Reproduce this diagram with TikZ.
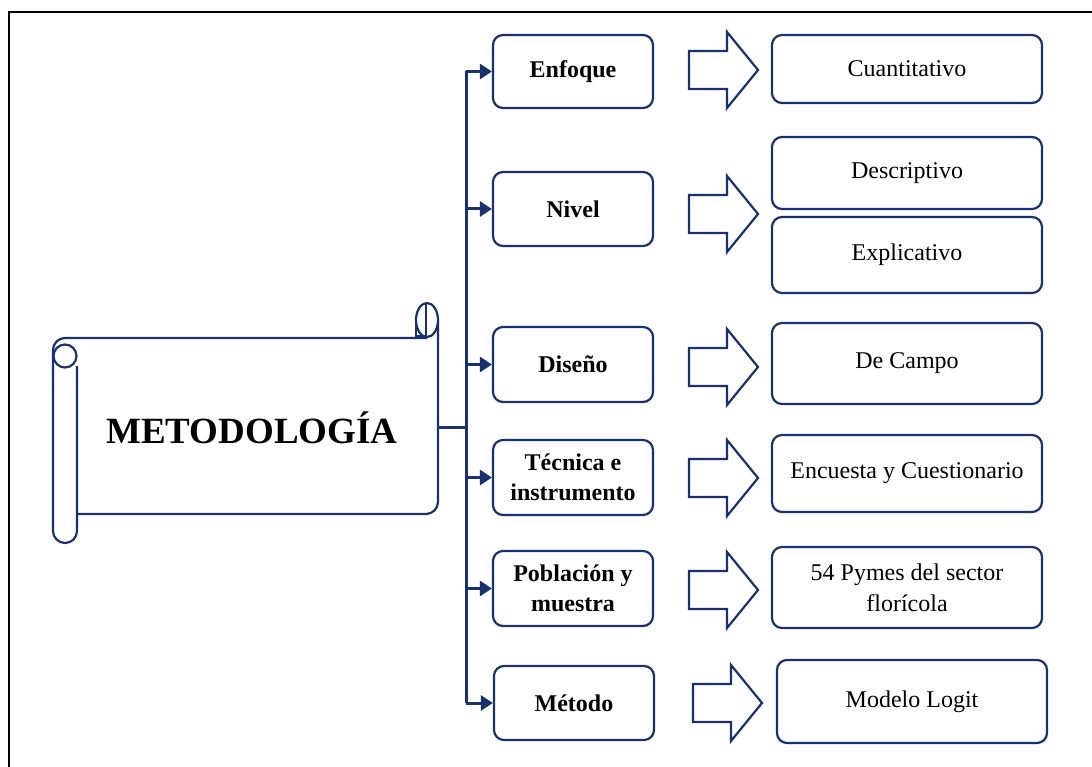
\documentclass[tikz,border=0pt]{standalone}
\usepackage{fontspec}
\setmainfont{Liberation Serif}
\usetikzlibrary{arrows.meta}
\definecolor{navy}{RGB}{25,50,110}

\tikzset{
	catbox/.style={draw=navy, line width=2.2pt, rounded corners=10pt, minimum width=160pt, inner sep=2pt, align=center, font=\fontsize{24}{30}\selectfont\bfseries},
	resbox/.style={draw=navy, line width=2.2pt, rounded corners=10pt, minimum width=270pt, inner sep=2pt, align=center, font=\fontsize{24}{31}\selectfont},
	branch/.style={navy, line width=3pt, -{Triangle[length=12pt,width=15pt]}},
	trunkline/.style={navy, line width=3pt},
	bigarrow/.style={draw=navy, line width=2.2pt, fill=white, line join=miter},
	scrollline/.style={draw=navy, line width=2.2pt},
}

\begin{document}
\begin{tikzpicture}[x=1pt,y=-1pt]
	
	\useasboundingbox (0,0) rectangle (1092,767);
	
	% Frame
	\draw[black, line width=2pt] (9,767) -- (9,12) -- (1092,12);
	
	% Scroll
	\draw[scrollline, rounded corners=12pt] (77,366) -- (77,543) -- (53,543) -- (53,338) -- (427,338);
	\draw[scrollline, rounded corners=12pt] (77,514) -- (438,514) -- (438,320);
	\draw[scrollline, fill=white] (65,356) circle[radius=11.5];
	\draw[scrollline, fill=white] (427,320) ellipse[x radius=11, y radius=17];
	\draw[navy, line width=2pt] (426,304) -- (426,337);
	\draw[navy, line width=2pt] (416,323) -- (416,336) -- (426,336);
	\node[font=\fontsize{37}{40}\selectfont\bfseries] (metodo) at (252,428) {METODOLOGÍA};
	\coordinate (scroll) at (438,427);
	\coordinate (trunk) at (466,427);
	
	% Categories
	\node[catbox, minimum height=73pt] (enf) at (573,71.5) {Enfoque};
	\node[catbox, minimum height=74pt] (niv) at (573,209) {Nivel};
	\node[catbox, minimum height=75pt] (dis) at (573,364.5) {Diseño};
	\node[catbox, minimum height=75pt] (tec) at (573,477.5) {Técnica e\\instrumento};
	\node[catbox, minimum height=75pt] (pob) at (573,588.5) {Población y\\muestra};
	\node[catbox, minimum height=74pt] (met) at (574,703) {Método};
	
	% Trunk and branches
	\draw[trunkline] (scroll) -- (trunk);
	\draw[trunkline] (trunk |- enf) -- (trunk |- met);
	\foreach \n in {enf,niv,dis,tec,pob,met}
		\draw[branch] (trunk |- \n) -- (\n);
	
	% Block arrows
	\foreach \y/\x in {70/689,214/689,367/689,478/689,590/689,703/693}
		\draw[bigarrow] (\x,\y-19) -- (\x+38,\y-19) -- (\x+38,\y-38) -- (\x+69,\y) -- (\x+38,\y+38) -- (\x+38,\y+19) -- (\x,\y+19) -- cycle;
	
	% Results
	\node[resbox, minimum height=68pt] (cua) at (907,69) {Cuantitativo};
	\node[resbox, minimum height=72pt] (des) at (907,173) {Descriptivo};
	\node[resbox, minimum height=76pt] (exp) at (907,255) {Explicativo};
	\node[resbox, minimum height=81pt] (cam) at (907,363.5) {De Campo};
	\node[resbox, minimum height=77pt] (enc) at (907,473.5) {Encuesta y Cuestionario};
	\node[resbox, minimum height=81pt] (pym) at (907,587.5) {54 Pymes del sector\\florícola};
	\node[resbox, minimum height=83pt] (mod) at (912,701.5) {Modelo Logit};
	
\end{tikzpicture}
\end{document}
